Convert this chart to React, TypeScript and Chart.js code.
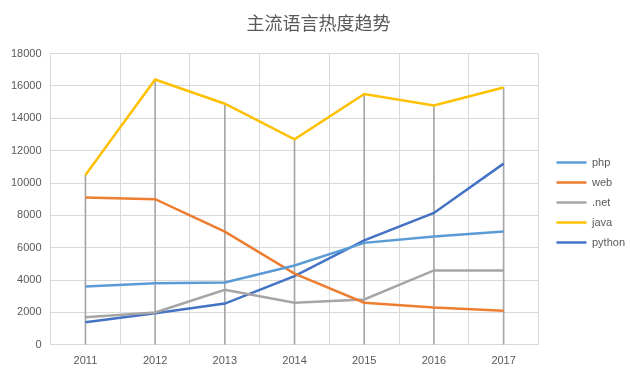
import React, { useEffect, useRef } from "react";
import { Chart, registerables } from "chart.js";

Chart.register(...registerables);

const categories = ["2011", "2012", "2013", "2014", "2015", "2016", "2017"];
const phpValues = [3600, 3800, 3850, 4900, 6300, 6700, 7000];
const webValues = [9100, 9000, 7000, 4400, 2600, 2300, 2100];
const netValues = [1700, 2000, 3400, 2600, 2800, 4600, 4600];
const javaValues = [10500, 16400, 14900, 12700, 15500, 14800, 15900];
const pythonValues = [1400, 1950, 2550, 4250, 6450, 8150, 11200];
const yTicks = [0, 2000, 4000, 6000, 8000, 10000, 12000, 14000, 16000, 18000];
const titleText = "主流语言热度趋势";

export default function App() {
  const ref = useRef<HTMLCanvasElement | null>(null);
  useEffect(() => {
    if (!ref.current) return;
    const allSeries = [phpValues, webValues, netValues, javaValues, pythonValues];
    const dropTops = categories.map((_, i) => Math.max(...allSeries.map((s) => s[i])));
    const line = (label: string, data: number[], color: string) => ({
      type: "line" as const,
      label,
      data,
      borderColor: color,
      backgroundColor: color,
      borderWidth: 2.5,
      pointRadius: 0,
      tension: 0,
      order: 1,
    });
    const chart = new Chart(ref.current, {
      type: "line",
      data: {
        labels: categories,
        datasets: [
          line("php", phpValues, "#5B9BD5"),
          line("web", webValues, "#ED7D31"),
          line(".net", netValues, "#A5A5A5"),
          line("java", javaValues, "#FFC000"),
          line("python", pythonValues, "#4472C4"),
          {
            type: "bar" as const,
            label: "drop",
            data: dropTops,
            backgroundColor: "#A6A6A6",
            barThickness: 1,
            order: 10,
          } as any,
        ],
      },
      options: {
        animation: false,
        responsive: false,
        maintainAspectRatio: false,
        layout: { padding: { left: 2, right: 5, top: 6, bottom: -2 } },
        plugins: {
          title: {
            display: true,
            text: titleText,
            color: "#595959",
            font: { family: "'Noto Sans CJK SC'", size: 18, weight: "normal" },
            padding: { top: 6, bottom: 20 },
          },
          legend: {
            position: "right",
            title: { display: true, text: " ", padding: { top: 0, bottom: 8 }, font: { size: 11 } },
            labels: {
              filter: (item: any) => item.text !== "drop",
              usePointStyle: true,
              pointStyle: "line",
              pointStyleWidth: 30,
              boxWidth: 30,
              color: "#595959",
              font: { family: "'Liberation Sans'", size: 11 },
              padding: 9,
            },
          },
          tooltip: { enabled: false },
        },
        scales: {
          x: {
            offset: true,
            grid: { offset: true, color: "#D9D9D9", drawTicks: false },
            border: { color: "#D9D9D9" },
            ticks: {
              color: "#595959",
              font: { family: "'Liberation Sans'", size: 11 },
              padding: 10,
            },
          },
          y: {
            min: 0,
            max: 18000,
            afterBuildTicks: (axis: any) => {
              axis.ticks = yTicks.map((v) => ({ value: v }));
            },
            grid: { color: "#D9D9D9", drawTicks: false },
            border: { color: "#D9D9D9" },
            ticks: {
              color: "#595959",
              font: { family: "'Liberation Sans'", size: 11 },
              padding: 9,
              callback: (v: any) => String(v),
            },
          },
          gap: {
            type: "linear",
            position: "right",
            display: true,
            grid: { display: false, drawTicks: false },
            border: { display: false },
            ticks: { display: false },
            afterFit: (axis: any) => {
              axis.width = 9;
            },
          },
        },
      },
    } as any);
    return () => chart.destroy();
  }, []);
  return (
    <div style={{ position: "fixed", left: 0, top: 0, width: 640, height: 376, background: "#fff" }}>
      <canvas ref={ref} width={640} height={376} style={{ width: 640, height: 376 }} />
    </div>
  );
}
